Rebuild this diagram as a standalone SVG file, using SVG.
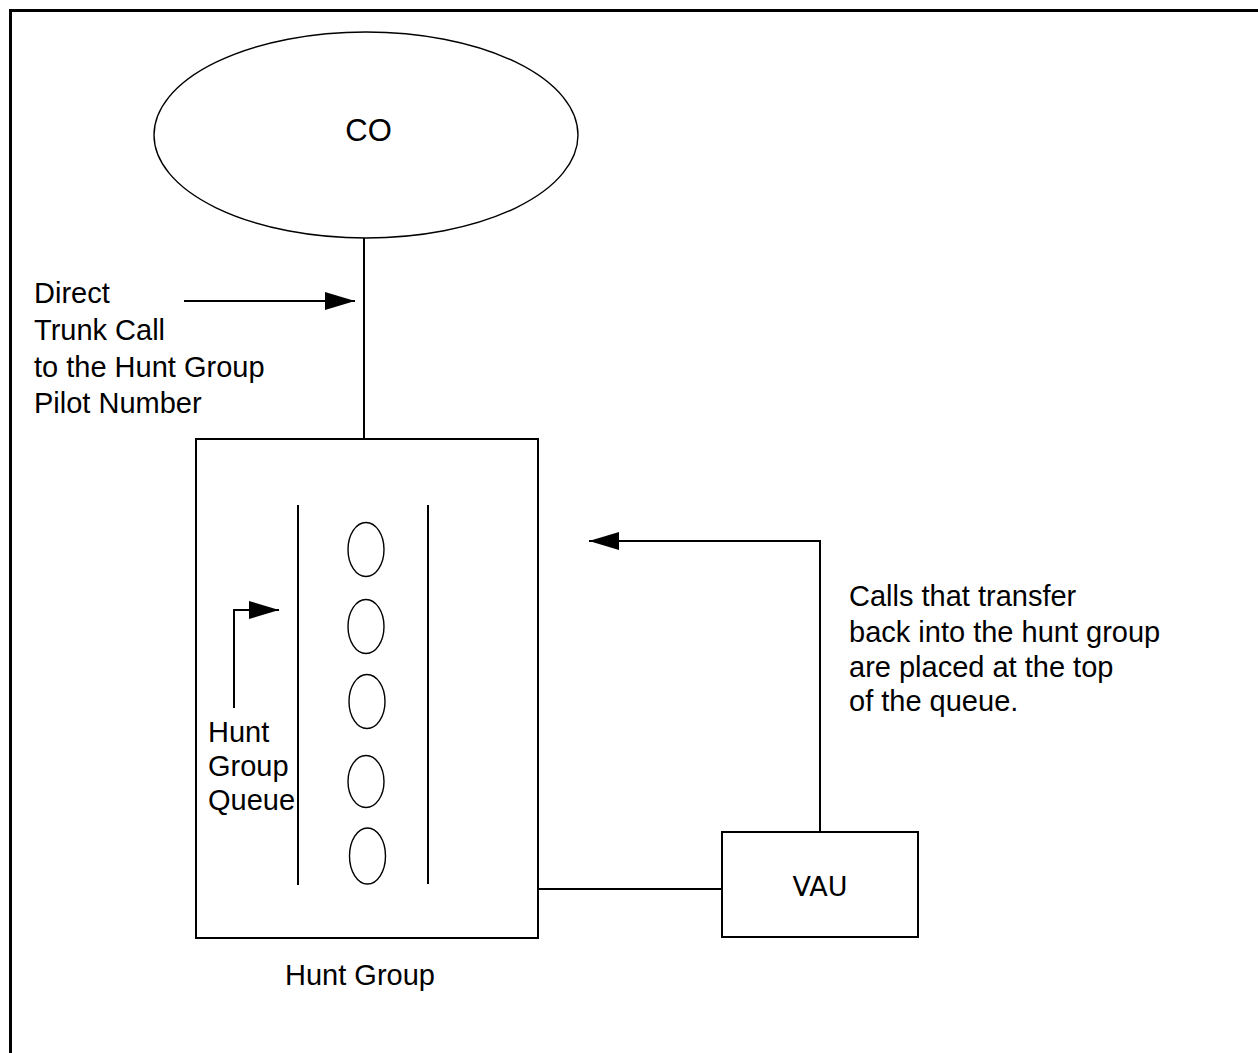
<svg xmlns="http://www.w3.org/2000/svg" width="1258" height="1053" viewBox="0 0 1258 1053">
<style>
  .ln{fill:none;stroke:#000;stroke-width:2}
  .thin{fill:none;stroke:#000;stroke-width:1.4}
  .lbl{font-family:"Liberation Sans",Arial,sans-serif;font-size:29px;fill:#000}
  .vau{font-family:"DejaVu Sans",Verdana,sans-serif;font-size:27px;fill:#000}
</style>
<defs>
  <marker id="ah" viewBox="0 0 30 18" refX="30" refY="9" markerWidth="30" markerHeight="18" markerUnits="userSpaceOnUse" orient="auto">
    <path d="M0,0 L30,9 L0,18 Z" fill="#000"/>
  </marker>
</defs>
<rect width="1258" height="1053" fill="#fff"/>
<path d="M10.5,1053 V10.5 H1258" fill="none" stroke="#000" stroke-width="3"/>

<g id="co">
  <ellipse cx="366" cy="135" rx="212" ry="103" class="thin"/>
  <text x="368.5" y="140.5" class="lbl" text-anchor="middle" style="font-size:31px">CO</text>
</g>

<g id="hunt-group">
  <rect x="196" y="439" width="342" height="499" class="ln"/>
  <line x1="298" y1="505" x2="298" y2="885" class="ln"/>
  <line x1="428" y1="505" x2="428" y2="884" class="ln"/>
  <ellipse cx="366" cy="549.5" rx="18" ry="27" class="thin"/>
  <ellipse cx="366" cy="626.5" rx="18" ry="27" class="thin"/>
  <ellipse cx="367" cy="701.5" rx="18" ry="27" class="thin"/>
  <ellipse cx="366" cy="781.5" rx="18" ry="26" class="thin"/>
  <ellipse cx="367.5" cy="856" rx="18" ry="28" class="thin"/>
  <text class="lbl" x="208" y="742">Hunt</text>
  <text class="lbl" x="208" y="776">Group</text>
  <text class="lbl" x="208" y="810">Queue</text>
  <text class="lbl" x="360" y="985" text-anchor="middle">Hunt Group</text>
</g>

<g id="vau">
  <rect x="722" y="832" width="196" height="105" class="ln"/>
  <text class="vau" x="820" y="896" text-anchor="middle">VAU</text>
</g>

<g id="direct-label">
  <text class="lbl" x="34" y="303">Direct</text>
  <text class="lbl" x="34" y="340">Trunk Call</text>
  <text class="lbl" x="34" y="377">to the Hunt Group</text>
  <text class="lbl" x="34" y="413">Pilot Number</text>
</g>

<g id="transfer-label">
  <text class="lbl" x="849" y="606">Calls that transfer</text>
  <text class="lbl" x="849" y="642">back into the hunt group</text>
  <text class="lbl" x="849" y="677">are placed at the top</text>
  <text class="lbl" x="849" y="711">of the queue.</text>
</g>

<g id="connectors">
  <line x1="364" y1="238" x2="364" y2="439" class="ln"/>
  <line x1="184" y1="301" x2="355" y2="301" class="ln" marker-end="url(#ah)"/>
  <polyline points="234,708 234,610 279,610" class="ln" marker-end="url(#ah)"/>
  <polyline points="820,832 820,541 589,541" class="ln" marker-end="url(#ah)"/>
  <line x1="538" y1="889" x2="722" y2="889" class="ln"/>
</g>
</svg>
